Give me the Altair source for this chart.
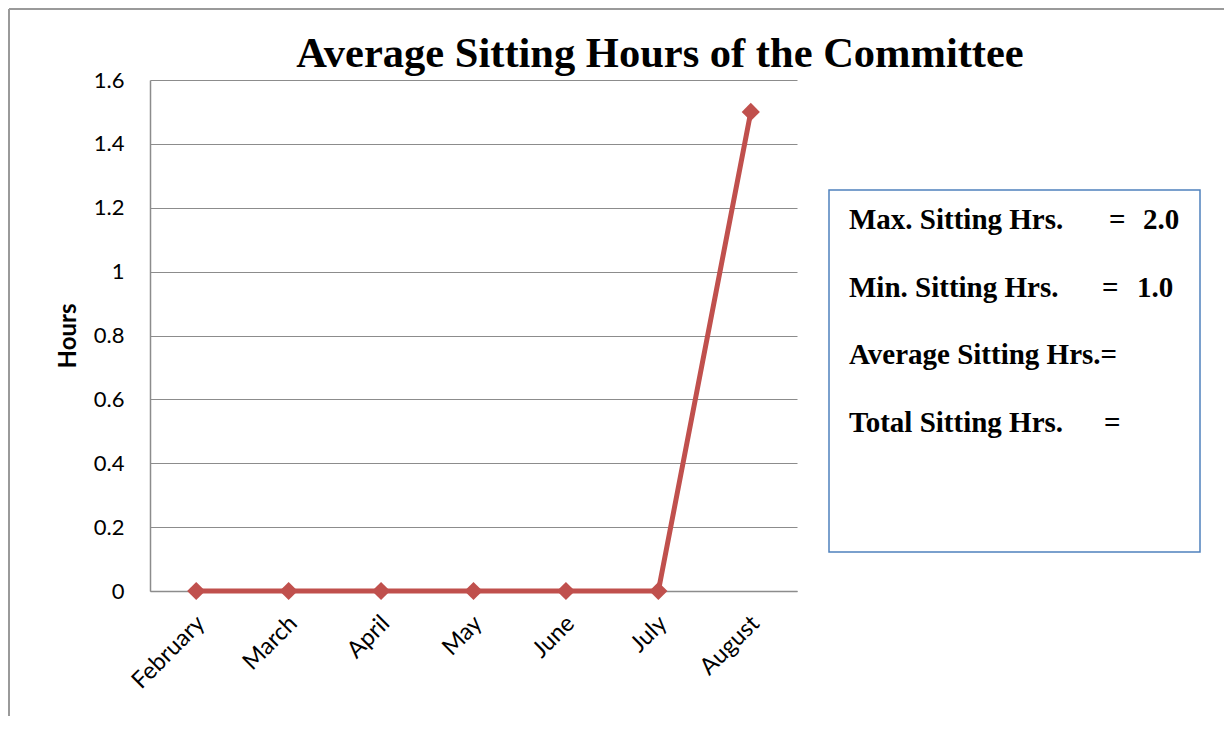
import altair as alt
import pandas as pd

months = ["February", "March", "April", "May", "June", "July", "August"]
hours = [0, 0, 0, 0, 0, 0, 1.5]
y_ticks = [0, 0.2, 0.4, 0.6, 0.8, 1, 1.2, 1.4, 1.6]
title_text = "Average Sitting Hours of the Committee"
box_labels = ["Max. Sitting Hrs.", "Min. Sitting Hrs.", "Average Sitting Hrs.=", "Total Sitting Hrs."]
box_eq = ["=", "=", "", "="]
box_values = ["2.0", "1.0", "", ""]

df = pd.DataFrame({"month": months, "hours": hours})
one = alt.Data(values=[{}])

RED = "#c0504d"
GRID = "#8c8c8c"
SERIF = "Liberation Serif"

base = alt.Chart(df).encode(
    x=alt.X(
        "month:N", sort=months,
        scale=alt.Scale(type="point", padding=0.5),
        axis=alt.Axis(title=None, labelAngle=-45, labelFont="Lato", labelFontSize=23.5,
                      labelColor="black", domainColor=GRID, domainWidth=1.5,
                      ticks=False, labelPadding=20, labelOffset=-4),
    ),
    y=alt.Y(
        "hours:Q",
        scale=alt.Scale(domain=[0, 1.6], nice=False),
        axis=alt.Axis(values=y_ticks, format="~g", title="Hours", titleFont="Lato",
                      titleFontSize=24, titleFontWeight="bold", titleColor="black",
                      titlePadding=13, labelFont="Lato", labelFontSize=22, labelColor="black",
                      ticks=False, labelPadding=26, domainColor=GRID, domainWidth=1.5,
                      grid=True, gridColor=GRID, gridWidth=1.2),
    ),
)

line = base.mark_line(color=RED, strokeWidth=5)
pts = base.mark_point(shape="diamond", filled=True, size=330, color=RED, opacity=1)

border_left = alt.Chart(one).mark_rule(color="#9a9a9a", strokeWidth=2).encode(
    x=alt.value(-141), y=alt.value(-71), y2=alt.value(660))
border_top = alt.Chart(one).mark_rule(color="#9a9a9a", strokeWidth=2).encode(
    x=alt.value(-141), x2=alt.value(1100), y=alt.value(-71))

title = alt.Chart(one).mark_text(
    text=title_text, font=SERIF, fontWeight="bold", fontSize=42.5,
    align="center", baseline="alphabetic", color="black"
).encode(x=alt.value(510), y=alt.value(-13))

box = alt.Chart(one).mark_rect(fill="white", fillOpacity=0, stroke="#4f81bd", strokeWidth=1.5).encode(
    x=alt.value(679), x2=alt.value(1050), y=alt.value(110), y2=alt.value(472))

layers = [border_left, border_top, line, pts, title, box]
eq_x = [959, 952, 0, 954]
val_x = [993, 987, 0, 0]
for i, lab in enumerate(box_labels):
    yb = 149 + i * 67.7
    layers.append(alt.Chart(one).mark_text(
        text=lab, font=SERIF, fontWeight="bold", fontSize=29, align="left",
        baseline="alphabetic", color="black").encode(x=alt.value(699), y=alt.value(yb)))
    if box_eq[i]:
        layers.append(alt.Chart(one).mark_text(
            text=box_eq[i], font=SERIF, fontWeight="bold", fontSize=29, align="left",
            baseline="alphabetic", color="black").encode(x=alt.value(eq_x[i]), y=alt.value(yb)))
    if box_values[i]:
        layers.append(alt.Chart(one).mark_text(
            text=box_values[i], font=SERIF, fontWeight="bold", fontSize=29, align="left",
            baseline="alphabetic", color="black").encode(x=alt.value(val_x[i]), y=alt.value(yb)))

chart = alt.layer(*layers).properties(
    width=647, height=511,
    padding={"left": 142, "top": 72, "right": 427, "bottom": 125},
    autosize=alt.AutoSizeParams(type="none"),
    background="white",
).configure_view(stroke=None)

chart.save("out.html", embed_options={"renderer": "svg", "actions": False})
